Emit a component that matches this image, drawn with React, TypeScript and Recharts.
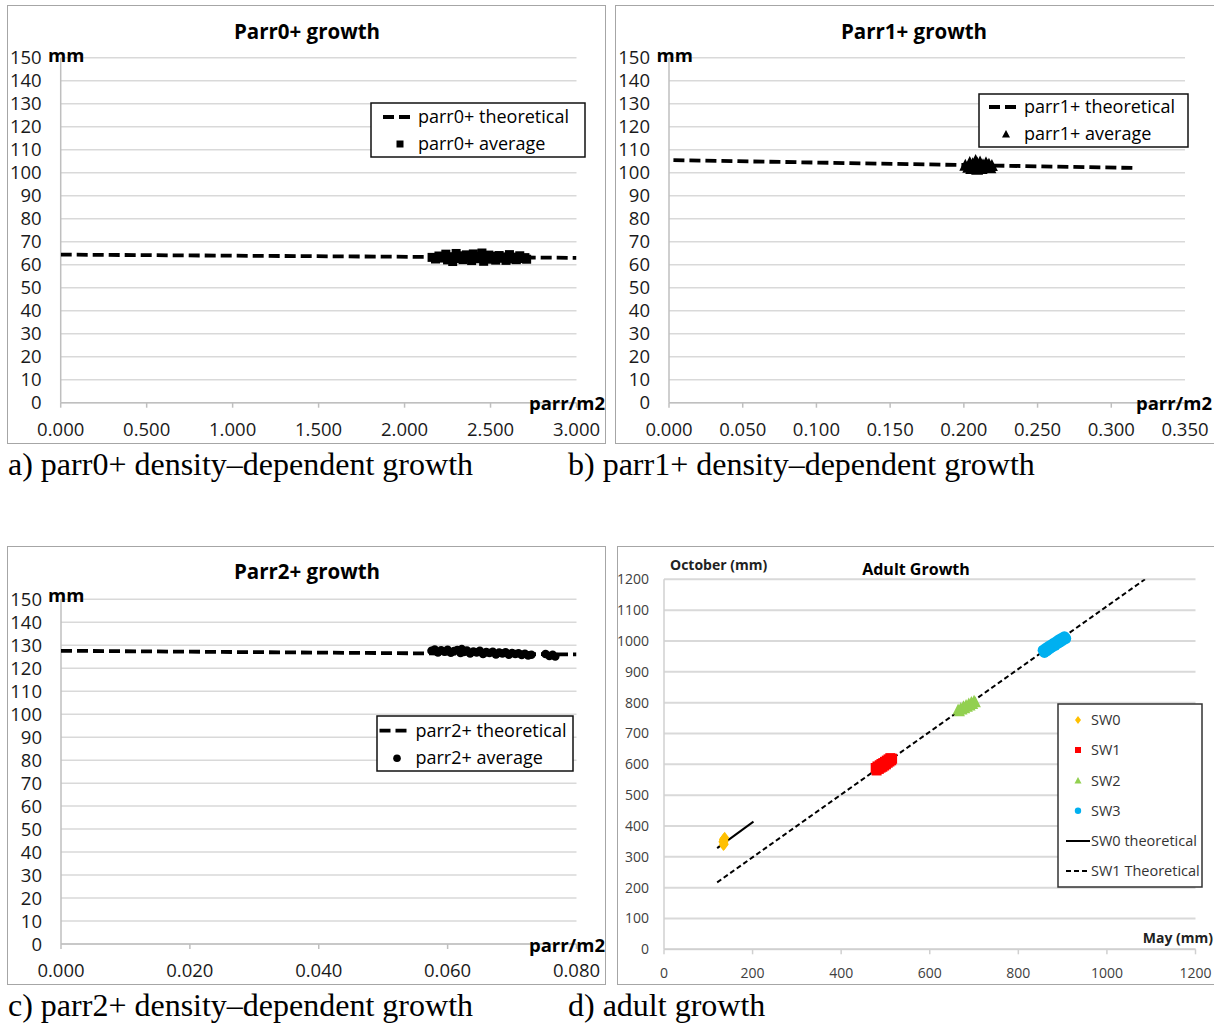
import React from 'react';
import { ScatterChart, Scatter, XAxis, YAxis, CartesianGrid } from 'recharts';

const FONT = '"Open Sans", sans-serif';
const SERIF = '"Liberation Serif", "Times New Roman", serif';

// ---------- data ----------
const parrYTicks = [0, 10, 20, 30, 40, 50, 60, 70, 80, 90, 100, 110, 120, 130, 140, 150];

const parr0XTicks = [0, 0.5, 1, 1.5, 2, 2.5, 3];
const parr0Theoretical = [
  { x: 0.0, y: 64.4 },
  { x: 3.0, y: 63.0 },
];
const parr0Average = [
  { x: 2.16, y: 63.2 }, { x: 2.18, y: 62.5 }, { x: 2.2, y: 63.8 }, { x: 2.22, y: 62.9 },
  { x: 2.24, y: 64.6 }, { x: 2.25, y: 62.1 }, { x: 2.27, y: 63.5 }, { x: 2.28, y: 61.4 },
  { x: 2.3, y: 64.9 }, { x: 2.31, y: 62.7 }, { x: 2.33, y: 63.9 }, { x: 2.34, y: 62.2 },
  { x: 2.36, y: 64.3 }, { x: 2.37, y: 63.0 }, { x: 2.39, y: 61.8 }, { x: 2.4, y: 64.7 },
  { x: 2.42, y: 62.6 }, { x: 2.43, y: 63.6 }, { x: 2.45, y: 65.1 }, { x: 2.46, y: 61.5 },
  { x: 2.47, y: 63.2 }, { x: 2.49, y: 64.2 }, { x: 2.5, y: 62.4 }, { x: 2.52, y: 63.7 },
  { x: 2.53, y: 62.0 }, { x: 2.55, y: 64.0 }, { x: 2.56, y: 62.8 }, { x: 2.58, y: 63.4 },
  { x: 2.59, y: 61.9 }, { x: 2.61, y: 64.4 }, { x: 2.62, y: 62.5 }, { x: 2.64, y: 63.3 },
  { x: 2.65, y: 62.2 }, { x: 2.67, y: 63.9 }, { x: 2.68, y: 62.7 }, { x: 2.7, y: 63.1 },
  { x: 2.71, y: 62.4 },
];

const parr1XTicks = [0, 0.05, 0.1, 0.15, 0.2, 0.25, 0.3, 0.35];
const parr1Theoretical = [
  { x: 0.003, y: 105.5 },
  { x: 0.315, y: 102.1 },
];
const parr1Average = [
  { x: 0.201, y: 103.0 }, { x: 0.203, y: 102.1 }, { x: 0.204, y: 104.2 }, { x: 0.205, y: 101.5 },
  { x: 0.206, y: 103.6 }, { x: 0.207, y: 102.6 }, { x: 0.208, y: 105.0 }, { x: 0.209, y: 101.2 },
  { x: 0.209, y: 103.9 }, { x: 0.21, y: 102.3 }, { x: 0.211, y: 104.4 }, { x: 0.212, y: 101.6 },
  { x: 0.213, y: 103.2 }, { x: 0.214, y: 102.0 }, { x: 0.215, y: 104.0 }, { x: 0.216, y: 102.7 },
  { x: 0.217, y: 103.4 }, { x: 0.218, y: 101.9 }, { x: 0.219, y: 102.9 },
];

const parr2XTicks = [0, 0.02, 0.04, 0.06, 0.08];
const parr2Theoretical = [
  { x: 0.0, y: 127.6 },
  { x: 0.08, y: 126.0 },
];
const parr2Average = [
  { x: 0.0575, y: 127.6 }, { x: 0.058, y: 128.1 }, { x: 0.0585, y: 126.9 }, { x: 0.059, y: 127.8 },
  { x: 0.0595, y: 127.2 }, { x: 0.06, y: 128.0 }, { x: 0.0605, y: 126.8 }, { x: 0.061, y: 127.5 },
  { x: 0.0615, y: 127.9 }, { x: 0.062, y: 126.6 }, { x: 0.0622, y: 128.3 }, { x: 0.0625, y: 127.1 },
  { x: 0.063, y: 127.7 }, { x: 0.0635, y: 126.4 }, { x: 0.064, y: 127.3 }, { x: 0.0645, y: 126.9 },
  { x: 0.065, y: 127.6 }, { x: 0.0655, y: 126.2 }, { x: 0.066, y: 127.0 }, { x: 0.0665, y: 126.6 },
  { x: 0.067, y: 127.2 }, { x: 0.0675, y: 126.0 }, { x: 0.068, y: 126.8 }, { x: 0.0685, y: 126.4 },
  { x: 0.069, y: 126.9 }, { x: 0.0695, y: 125.9 }, { x: 0.07, y: 126.6 }, { x: 0.0705, y: 126.2 },
  { x: 0.071, y: 126.5 }, { x: 0.0715, y: 125.8 }, { x: 0.072, y: 126.3 }, { x: 0.0725, y: 125.6 },
  { x: 0.073, y: 125.9 }, { x: 0.0752, y: 126.2 }, { x: 0.0758, y: 125.3 }, { x: 0.0763, y: 125.8 },
  { x: 0.0767, y: 125.1 },
];

const adultXTicks = [0, 200, 400, 600, 800, 1000, 1200];
const adultYTicks = [0, 100, 200, 300, 400, 500, 600, 700, 800, 900, 1000, 1100, 1200];
const sw0 = [
  { x: 134, y: 338 }, { x: 135, y: 345 }, { x: 136, y: 352 }, { x: 135, y: 358 },
  { x: 137, y: 362 }, { x: 133, y: 349 }, { x: 136, y: 341 }, { x: 134, y: 355 },
];
const sw1 = [
  { x: 478, y: 588 }, { x: 480, y: 580 }, { x: 482, y: 593 }, { x: 485, y: 585 },
  { x: 487, y: 597 }, { x: 489, y: 589 }, { x: 491, y: 601 }, { x: 493, y: 592 },
  { x: 495, y: 604 }, { x: 497, y: 596 }, { x: 499, y: 608 }, { x: 501, y: 600 },
  { x: 503, y: 612 }, { x: 505, y: 605 }, { x: 507, y: 616 }, { x: 509, y: 609 },
  { x: 511, y: 620 }, { x: 513, y: 613 }, { x: 515, y: 618 },
];
const sw2 = [
  { x: 664, y: 776 }, { x: 667, y: 770 }, { x: 670, y: 781 }, { x: 673, y: 776 },
  { x: 676, y: 786 }, { x: 679, y: 780 }, { x: 682, y: 790 }, { x: 685, y: 785 },
  { x: 688, y: 795 }, { x: 691, y: 789 }, { x: 694, y: 800 }, { x: 697, y: 794 },
  { x: 700, y: 804 }, { x: 703, y: 799 },
];
const sw3 = [
  { x: 856, y: 970 }, { x: 859, y: 963 }, { x: 862, y: 976 }, { x: 865, y: 969 },
  { x: 868, y: 982 }, { x: 871, y: 975 }, { x: 874, y: 987 }, { x: 877, y: 981 },
  { x: 880, y: 993 }, { x: 883, y: 986 }, { x: 886, y: 998 }, { x: 889, y: 992 },
  { x: 892, y: 1004 }, { x: 895, y: 997 }, { x: 898, y: 1009 }, { x: 901, y: 1003 },
  { x: 904, y: 1014 }, { x: 907, y: 1008 },
];
const sw0Theoretical = [
  { x: 120, y: 328 },
  { x: 202, y: 414 },
];
const sw1Theoretical = [
  { x: 120, y: 217 },
  { x: 1086, y: 1200 },
];

// ---------- shapes ----------
const none = () => <g />;
const squareShape = (size: number, fill: string) => (p: any) =>
  <rect x={p.cx - size / 2} y={p.cy - size / 2} width={size} height={size} fill={fill} />;
const triangleShape = (size: number, fill: string) => (p: any) =>
  <polygon
    points={`${p.cx},${p.cy - size * 0.6} ${p.cx - size / 2},${p.cy + size * 0.4} ${p.cx + size / 2},${p.cy + size * 0.4}`}
    fill={fill} />;
const circleShape = (r: number, fill: string) => (p: any) =>
  <circle cx={p.cx} cy={p.cy} r={r} fill={fill} />;
const diamondShape = (w: number, h: number, fill: string) => (p: any) =>
  <polygon points={`${p.cx},${p.cy - h} ${p.cx + w},${p.cy} ${p.cx},${p.cy + h} ${p.cx - w},${p.cy}`} fill={fill} />;

// ---------- panels ----------
type ParrProps = {
  left: number; top: number; width: number; height: number;
  plot: { l: number; t: number; r: number; b: number };
  xDomain: [number, number]; xTicks: number[];
  theo: { x: number; y: number }[]; avg: { x: number; y: number }[];
  avgShape: any;
};

function ParrPanel(p: ParrProps) {
  const tickStyle = { fontSize: 18.5, fill: '#1a1a1a', fontFamily: FONT };
  return (
    <div style={{ position: 'absolute', left: p.left, top: p.top, width: p.width, height: p.height }}>
      <ScatterChart width={p.width} height={p.height}
        margin={{ top: p.plot.t, right: p.plot.r, bottom: 0, left: 0 }}>
        <CartesianGrid horizontal vertical={false} stroke="#d9d9d9" strokeWidth={1.5} />
        <XAxis type="number" dataKey="x" domain={p.xDomain} ticks={p.xTicks} interval={0}
          allowDataOverflow height={p.plot.b} tickSize={5} tickMargin={15}
          tickFormatter={(v: number) => v.toFixed(3)}
          axisLine={{ stroke: '#bfbfbf', strokeWidth: 1.5 }} tickLine={{ stroke: '#bfbfbf', strokeWidth: 1.5 }}
          tick={tickStyle} />
        <YAxis type="number" dataKey="y" domain={[0, 150]} ticks={parrYTicks} interval={0}
          allowDataOverflow width={p.plot.l} tickSize={0} tickMargin={19}
          axisLine={{ stroke: '#bfbfbf', strokeWidth: 1.5 }} tickLine={false} tick={tickStyle} />
        <Scatter data={p.theo} shape={none} fill="#000"
          line={{ stroke: '#000', strokeWidth: 3.8, strokeDasharray: '11 5' }}
          isAnimationActive={false} />
        <Scatter data={p.avg} shape={p.avgShape} fill="#000" isAnimationActive={false} />
      </ScatterChart>
    </div>
  );
}

function AdultPanel() {
  const W = 597.5, H = 439;
  const tickStyle = { fontSize: 14, fill: '#404040', fontFamily: FONT };
  return (
    <div style={{ position: 'absolute', left: 617, top: 546, width: W, height: H }}>
      <ScatterChart width={W} height={H} margin={{ top: 33.3, right: 19, bottom: 0, left: 0 }}>
        <CartesianGrid horizontal vertical={false} stroke="#d9d9d9" strokeWidth={2} />
        <XAxis type="number" dataKey="x" domain={[0, 1200]} ticks={adultXTicks} interval={0}
          allowDataOverflow height={35.7} tickSize={5} tickMargin={14}
          axisLine={{ stroke: '#d0d0d0', strokeWidth: 1.5 }} tickLine={{ stroke: '#d0d0d0', strokeWidth: 1.5 }}
          tick={tickStyle} />
        <YAxis type="number" dataKey="y" domain={[0, 1200]} ticks={adultYTicks} interval={0}
          allowDataOverflow width={47} tickSize={0} tickMargin={15}
          axisLine={{ stroke: '#d0d0d0', strokeWidth: 1.5 }} tickLine={false} tick={tickStyle} />
        <Scatter data={sw1Theoretical} shape={none} fill="#000"
          line={{ stroke: '#000', strokeWidth: 2, strokeDasharray: '5 3' }} isAnimationActive={false} />
        <Scatter data={sw0Theoretical} shape={none} fill="#000"
          line={{ stroke: '#000', strokeWidth: 2 }} isAnimationActive={false} />
        <Scatter data={sw0} shape={diamondShape(4.5, 6, '#FFC000')} fill="#FFC000" isAnimationActive={false} />
        <Scatter data={sw1} shape={squareShape(10, '#FF0000')} fill="#FF0000" isAnimationActive={false} />
        <Scatter data={sw2} shape={triangleShape(11, '#92D050')} fill="#92D050" isAnimationActive={false} />
        <Scatter data={sw3} shape={circleShape(5.5, '#00B0F0')} fill="#00B0F0" isAnimationActive={false} />
      </ScatterChart>
    </div>
  );
}

function Border({ left, top, width, height }: { left: number; top: number; width: number; height: number }) {
  return (
    <div style={{
      position: 'absolute', left, top, width, height, boxSizing: 'border-box',
      border: '1.5px solid #a6a6a6', pointerEvents: 'none',
    }} />
  );
}

function Overlay() {
  const bold18 = { fontFamily: FONT, fontSize: 18.5, fontWeight: 700, fill: '#000' } as any;
  const leg18 = { fontFamily: FONT, fontSize: 18, fill: '#000' } as any;
  const leg14 = { fontFamily: FONT, fontSize: 14.5, fill: '#333' } as any;
  const cap = { fontFamily: SERIF, fontSize: 32, fill: '#000' } as any;
  return (
    <svg width={1214} height={1023} style={{ position: 'absolute', left: 0, top: 0, pointerEvents: 'none' }}>
      {/* titles */}
      <text x={307} y={38.5} textAnchor="middle" style={{ ...bold18, fontSize: 20.5 }}>Parr0+ growth</text>
      <text x={914} y={38.5} textAnchor="middle" style={{ ...bold18, fontSize: 20.5 }}>Parr1+ growth</text>
      <text x={307} y={578.5} textAnchor="middle" style={{ ...bold18, fontSize: 20.5 }}>Parr2+ growth</text>
      <text x={916} y={575} textAnchor="middle" style={{ ...bold18, fontSize: 16 }}>Adult Growth</text>

      {/* axis labels */}
      <text x={48} y={62} style={bold18}>mm</text>
      <text x={656.5} y={62} style={bold18}>mm</text>
      <text x={48} y={601.5} style={bold18}>mm</text>
      <text x={605} y={410} textAnchor="end" style={bold18}>parr/m2</text>
      <text x={1212} y={410} textAnchor="end" style={bold18}>parr/m2</text>
      <text x={605} y={952} textAnchor="end" style={bold18}>parr/m2</text>
      <text x={670} y={570} style={{ ...bold18, fontSize: 14, fill: '#222' }}>October (mm)</text>
      <text x={1213} y={943} textAnchor="end" style={{ ...bold18, fontSize: 14, fill: '#222' }}>May (mm)</text>

      {/* legend a */}
      <rect x={371} y={103} width={214} height={54} fill="#fff" stroke="#111" strokeWidth={1.5} />
      <line x1={383} y1={117} x2={410} y2={117} stroke="#000" strokeWidth={3.8} strokeDasharray="11 5" />
      <text x={418} y={122.5} style={leg18}>parr0+ theoretical</text>
      <rect x={396.5} y={140.5} width={7} height={7} fill="#000" />
      <text x={418} y={149.5} style={leg18}>parr0+ average</text>

      {/* legend b */}
      <rect x={979} y={94} width={209} height={53} fill="#fff" stroke="#111" strokeWidth={1.5} />
      <line x1={989} y1={107} x2={1016} y2={107} stroke="#000" strokeWidth={3.8} strokeDasharray="11 5" />
      <text x={1024} y={112.5} style={leg18}>parr1+ theoretical</text>
      <polygon points="1006,130 1002,137.5 1010,137.5" fill="#000" />
      <text x={1024} y={139.5} style={leg18}>parr1+ average</text>

      {/* legend c */}
      <rect x={377} y={716} width={196} height={55} fill="#fff" stroke="#111" strokeWidth={1.5} />
      <line x1={379.5} y1={730.7} x2={407} y2={730.7} stroke="#000" strokeWidth={3.8} strokeDasharray="11 5" />
      <text x={415.5} y={736.5} style={leg18}>parr2+ theoretical</text>
      <circle cx={397} cy={758.3} r={3.8} fill="#000" />
      <text x={415.5} y={764} style={leg18}>parr2+ average</text>

      {/* legend d */}
      <rect x={1058} y={704} width={144} height={183} fill="#fff" stroke="#333" strokeWidth={1.5} />
      <polygon points="1078,716 1081,720 1078,724 1075,720" fill="#FFC000" />
      <text x={1091} y={725} style={leg14}>SW0</text>
      <rect x={1075} y={747} width={6} height={6} fill="#FF0000" />
      <text x={1091} y={755} style={leg14}>SW1</text>
      <polygon points="1078,777 1074.5,783.5 1081.5,783.5" fill="#92D050" />
      <text x={1091} y={786} style={leg14}>SW2</text>
      <circle cx={1078} cy={810.7} r={3.2} fill="#00B0F0" />
      <text x={1091} y={816} style={leg14}>SW3</text>
      <line x1={1066} y1={841} x2={1090} y2={841} stroke="#000" strokeWidth={2} />
      <text x={1091} y={846} style={leg14}>SW0 theoretical</text>
      <line x1={1066} y1={871} x2={1090} y2={871} stroke="#000" strokeWidth={2} strokeDasharray="5 3" />
      <text x={1091} y={876} style={leg14}>SW1 Theoretical</text>

      {/* captions */}
      <text x={8} y={475} style={cap}>a) parr0+ density–dependent growth</text>
      <text x={568} y={475} style={cap}>b) parr1+ density–dependent growth</text>
      <text x={8} y={1016} style={cap}>c) parr2+ density–dependent growth</text>
      <text x={568} y={1016} style={cap}>d) adult growth</text>
    </svg>
  );
}

export default function App() {
  return (
    <div style={{ position: 'absolute', left: 0, top: 0, width: 1214, height: 1023, background: '#fff', overflow: 'hidden' }}>
      <ParrPanel left={7} top={5} width={599} height={439}
        plot={{ l: 53.7, t: 52.8, r: 29.5, b: 41.3 }}
        xDomain={[0, 3]} xTicks={parr0XTicks}
        theo={parr0Theoretical} avg={parr0Average} avgShape={squareShape(9, '#000')} />
      <ParrPanel left={614.5} top={5} width={600} height={439}
        plot={{ l: 54, t: 52.8, r: 30, b: 41.3 }}
        xDomain={[0, 0.35]} xTicks={parr1XTicks}
        theo={parr1Theoretical} avg={parr1Average} avgShape={triangleShape(12, '#000')} />
      <ParrPanel left={7} top={546} width={599} height={439}
        plot={{ l: 54, t: 53.3, r: 29.5, b: 41 }}
        xDomain={[0, 0.08]} xTicks={parr2XTicks}
        theo={parr2Theoretical} avg={parr2Average} avgShape={circleShape(4.3, '#000')} />
      <AdultPanel />
      <Border left={7} top={5} width={599} height={439} />
      <Border left={614.5} top={5} width={601} height={439} />
      <Border left={7} top={546} width={599} height={439} />
      <Border left={617} top={546} width={599} height={439} />
      <Overlay />
    </div>
  );
}
